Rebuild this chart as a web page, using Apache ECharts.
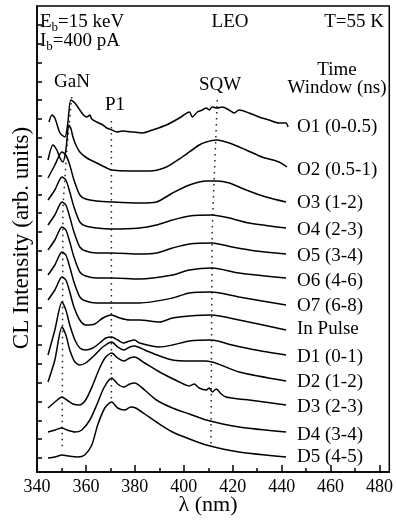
<!DOCTYPE html>
<html>
<head>
<meta charset="utf-8">
<script src="https://cdn.jsdelivr.net/npm/echarts@6/dist/echarts.min.js"></script>
<style>
html,body{margin:0;padding:0;background:#fff;}
#chart{width:396px;height:522px;}
</style>
</head>
<body>
<div id="chart"></div>
<script>
// Wavelength axis (nm)
const xMajorTicks = [340,360,380,400,420,440,460,480];
const xMinorTicks = [350,370,390,410,430,450,470];
// Spectra: [wavelength nm, CL intensity (arb. units, offset stacked)]
const o1 = [[344.9,336],[346.1,343],[347.3,340],[349.4,325],[351.4,321],[352.6,335],[353.8,358],[355.5,355],[357.5,348],[359,343],[360.4,341],[361.6,343],[362.4,339],[364.4,336],[366.9,333],[368.5,330],[370.6,328],[372.6,326],[375,327],[379.1,326],[383.1,325],[387.2,328],[392.9,333],[398.2,340],[402.3,346],[403.5,341],[405.5,346],[407.6,348],[409.2,350],[410.4,348],[411.6,351],[413.7,350],[415.7,351],[418.5,348],[420.6,345],[422.6,348],[426.7,345],[430.8,341],[434.8,338],[438.9,335],[441.8,335],[442.6,331]];
const o2 = [[344.5,298],[346.5,313],[348.1,308],[349.4,300],[350.6,296],[351.8,308],[353,333],[353.8,330],[354.7,321],[355.9,313],[357.5,306],[360.4,300],[364.4,295],[368.5,290],[370.5,288],[377.9,287],[386,287],[392.9,291],[399.4,301],[406.3,313],[409.2,316],[413.3,318],[418.6,315],[425.5,308],[432,301],[438.9,296],[442.2,291]];
const o3 = [[344.5,280],[347.3,293],[350.2,306],[351.8,303],[353.4,293],[355.1,278],[357.5,263],[359.9,259],[364.4,257],[370.5,256],[381.9,255],[388.8,256],[395.4,265],[402.3,273],[409.2,277],[413.3,277],[418.6,275],[425.5,268],[433.6,261],[441.8,256]];
const o4 = [[344.5,258],[347.3,268],[350.2,281],[351.8,278],[353.4,266],[355.1,251],[357.5,236],[359.9,232],[364.4,230],[370.5,229],[381.9,230],[388.8,233],[395.4,238],[402.3,242],[411.6,243],[418.6,240],[426.7,235],[441.8,230]];
const o5 = [[344.5,233],[347.3,243],[350.2,256],[351.8,253],[353.4,241],[355.1,226],[357.5,211],[359.9,207],[364.4,205],[370.5,205],[381.9,204],[388.8,205],[395.4,210],[402.3,214],[411.6,215],[419.8,211],[429.5,207],[441.8,204]];
const o6 = [[344.5,208],[347.3,218],[350.2,231],[351.8,228],[353.4,216],[355.1,201],[357.5,186],[359.9,182],[364.4,180],[370.5,180],[381.9,179],[395.4,183],[402.3,188],[411.6,190],[422.6,185],[441.8,180]];
const o7 = [[344.5,183],[347.3,193],[350.2,206],[351.8,203],[353.4,191],[355.1,176],[357.5,161],[359.9,157],[364.4,155],[370.5,155],[381.9,155],[395.4,160],[402.3,165],[411.2,166],[422.6,161],[441.8,153]];
const inPulse = [[344.5,158],[347.3,168],[350.2,181],[351.8,178],[353.4,166],[355.1,151],[357.5,138],[359.9,133],[363.6,134],[366.9,140],[370.5,143],[373.8,140],[377.9,138],[381.9,138],[390.1,136],[395.4,140],[402.3,142],[411.2,143],[422.6,138],[441.8,128]];
const d1 = [[344.5,103],[347.3,128],[350.2,156],[351.8,148],[353.4,133],[355.5,118],[357.5,110],[359.9,108],[362.8,110],[365.6,115],[368.1,120],[370.5,121],[373,118],[375.4,115],[377.9,117],[379.9,118],[381.9,115],[390.1,111],[395.4,113],[402.3,117],[411.2,118],[419.8,113],[429.5,108],[441.8,103]];
const d2 = [[344.5,76],[347.3,98],[350.2,131],[351.8,123],[353.4,108],[355.5,96],[357.5,93],[359.9,95],[363.6,103],[366.9,111],[370.5,116],[373,111],[375.4,108],[377.9,111],[379.9,112],[384,108],[390.1,102],[395.4,98],[402.3,97],[409.2,97],[422.6,86],[441.8,77]];
const d3 = [[344.5,50],[347.3,56],[350.2,61],[352.2,58],[354.7,54],[357.5,53],[359.9,58],[362.8,73],[365.6,90],[368.1,101],[370.5,105],[373,100],[375.4,97],[377.9,100],[379.9,101],[384,95],[390.1,86],[398.2,76],[402.3,72],[404.3,74],[406.3,70],[409.2,68],[410.4,70],[411.6,66],[413.3,69],[415.3,64],[417.3,61],[422.6,59],[426.7,58],[441.8,53]];
const d4 = [[344.5,26],[347.3,28],[350.2,30],[352.2,28],[355.5,26],[358.3,28],[361.6,38],[364.4,53],[367.3,70],[370.5,80],[373,74],[375.4,71],[377.9,74],[379.9,75],[384,68],[388.8,58],[395.4,50],[402.3,44],[409.2,38],[422.6,31],[441.8,26]];
const d5 = [[344.5,0],[347.3,1],[350.2,3],[352.6,2],[356.7,1],[359.5,3],[362.4,13],[364.8,33],[367.7,50],[370.5,56],[373,50],[375.8,48],[378.3,51],[380.3,50],[384,44],[388.8,36],[395.4,26],[402.3,19],[409.2,13],[422.6,6],[441.8,1]];
const spectra = [o1,o2,o3,o4,o5,o6,o7,inPulse,d1,d2,d3,d4,d5];
const windowLabels = ['O1 (0-0.5)','O2 (0.5-1)','O3 (1-2)','O4 (2-3)','O5 (3-4)','O6 (4-6)','O7 (6-8)','In Pulse','D1 (0-1)','D2 (1-2)','D3 (2-3)','D4 (3-4)','D5 (4-5)'];
// Dotted guide lines (peak positions)
const ganLine = [[354.2,361],[352.2,308],[350.6,251],[350.3,10]];
const p1Line = [[370.4,337],[370.4,56]];
const sqwLine = [[413.7,358],[411.6,228],[411.1,13]];
const tickStep = 18.83;

const FONT = '"Liberation Serif", "Times New Roman", serif';
const labelY = [127,170,203,230,256,281,306,329,357,382,407,435,457];
const chart = echarts.init(document.getElementById('chart'), null, {renderer:'canvas'});

const series = spectra.map((d,i)=>({
  type:'line', data:d, xAxisIndex:0, yAxisIndex:0, showSymbol:false, smooth:0.25,
  lineStyle:{color:'#000', width:1.5}, silent:true, animation:false, z:3
}));
[ganLine,p1Line,sqwLine].forEach(l=>series.push({
  type:'line', data:l, showSymbol:false, silent:true, animation:false, z:2,
  lineStyle:{color:'#222', width:1.5, type:[1.5,4.5]}
}));

const yTicks = [];
for (let k=0;k<24;k++) yTicks.push(+(k*tickStep).toFixed(2));

const txt = (text,x,y,opt={}) => ({type:'text', x, y, silent:true, style:Object.assign({text, fill:'#000', fontSize:19, fontFamily:FONT, align:'left', verticalAlign:'middle'},opt)});

const graphic = [
  txt('{n|E}{s|b}{n|=15 keV}',40,22,{rich:{n:{fontSize:19,fontFamily:FONT,lineHeight:24,fill:'#000'},s:{fontSize:13,fontFamily:FONT,lineHeight:13,verticalAlign:'bottom',fill:'#000'}}}),
  txt('{n|I}{s|b}{n|=400 pA}',40,41,{rich:{n:{fontSize:19,fontFamily:FONT,lineHeight:24,fill:'#000'},s:{fontSize:13,fontFamily:FONT,lineHeight:13,verticalAlign:'bottom',fill:'#000'}}}),
  txt('LEO',230,22,{align:'center'}),
  txt('T=55 K',384,22,{align:'right'}),
  txt('GaN',72,82,{align:'center'}),
  txt('P1',115,105,{align:'center'}),
  txt('SQW',220,85,{align:'center'}),
  txt('Time',337,70,{align:'center'}),
  txt('Window (ns)',337,88,{align:'center'}),
  {type:'text', x:22, y:238, rotation:Math.PI/2, silent:true, style:{text:'CL Intensity (arb. units)', fill:'#000', fontSize:23, fontFamily:FONT, align:'center', verticalAlign:'middle'}},
  txt('λ (nm)',208,505,{align:'center',fontSize:22})
];
windowLabels.forEach((t,i)=>graphic.push(txt(t,297,labelY[i])));

chart.setOption({
  animation:false,
  backgroundColor:'#fff',
  grid:{left:37,right:5,top:6,bottom:50,show:true,borderColor:'#000',borderWidth:1.5,backgroundColor:'transparent'},
  xAxis:[{
    type:'value', min:340, max:484, interval:20,
    axisLine:{show:true,onZero:false,lineStyle:{color:'#000',width:1.5}},
    axisTick:{show:true,inside:true,length:7,customValues:xMajorTicks,lineStyle:{color:'#000',width:1.5}},
    axisLabel:{show:true,customValues:xMajorTicks,color:'#000',fontSize:18,fontFamily:FONT,margin:6},
    splitLine:{show:false}
  },{
    type:'value', min:340, max:484, position:'bottom',
    axisLine:{show:false,onZero:false},
    axisTick:{show:true,inside:true,length:4,customValues:xMinorTicks,lineStyle:{color:'#000',width:1.5}},
    axisLabel:{show:false},
    splitLine:{show:false}
  }],
  yAxis:{
    type:'value', min:-14, max:452,
    axisLine:{show:true,onZero:false,lineStyle:{color:'#000',width:1.5}},
    axisTick:{show:true,inside:true,length:5,customValues:yTicks,lineStyle:{color:'#000',width:1.5}},
    axisLabel:{show:false},
    splitLine:{show:false}
  },
  series:series,
  graphic:graphic
});
</script>
</body>
</html>
